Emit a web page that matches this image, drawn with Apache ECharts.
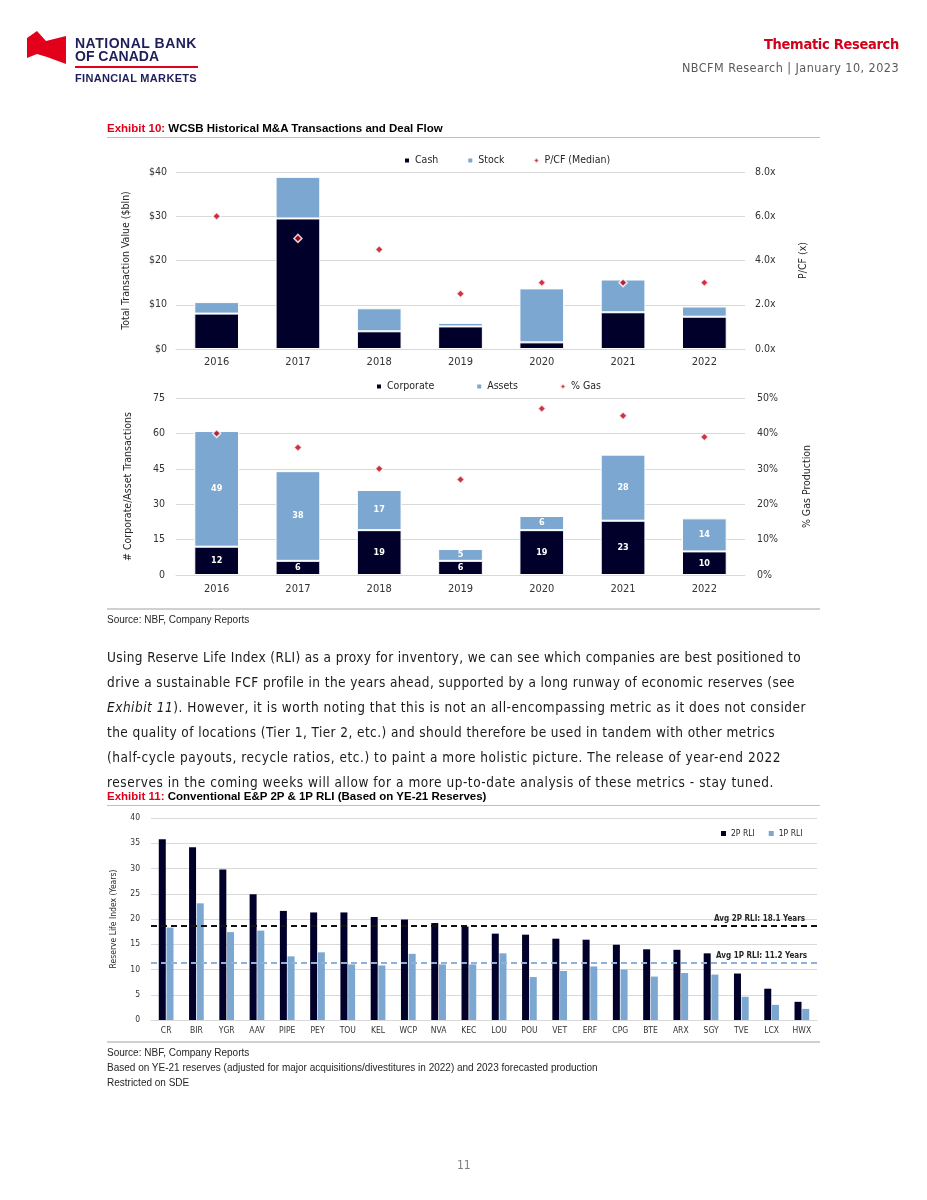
<!DOCTYPE html>
<html><head><meta charset="utf-8">
<script src="https://cdn.jsdelivr.net/npm/echarts/dist/echarts.min.js"></script>
<style>
html,body{margin:0;padding:0;background:#fff;}
#page{position:relative;width:927px;height:1200px;overflow:hidden;background:#fff;}
#chart{position:absolute;left:0;top:0;width:927px;height:1200px;}
.t{position:absolute;white-space:nowrap;line-height:1;}
.hr{position:absolute;left:107px;width:713px;background:#BFBFBF;}
.body{font-family:"DejaVu Sans Condensed","DejaVu Sans",sans-serif;font-size:13.5px;color:#1a1a1a;left:107px;}
.ex{font-family:"Liberation Sans",Arial,sans-serif;font-weight:bold;font-size:11.5px;color:#000;left:107px;}
.ex span{color:#E0001B;}
.src{font-family:"Liberation Sans",Arial,sans-serif;font-size:10px;color:#262626;left:107px;}
.logo{font-family:"Liberation Sans",Arial,sans-serif;font-weight:bold;color:#1E1E5A;left:75px;}
</style></head>
<body><div id="page">
<div id="chart"></div>

<svg class="t" style="left:0;top:0" width="80" height="80"><path d="M27,38 L37,31 L46,41 L66,36 L66,64 L47,57 L37,54 L27,58 Z" fill="#E3001B"/></svg>
<div class="t logo fit" data-w="122" style="top:36px;font-size:14px;">NATIONAL BANK</div>
<div class="t logo" style="top:49px;font-size:14px;">OF CANADA</div>
<div class="t" style="left:75px;top:66px;width:123px;height:1.5px;background:#E3001B;"></div>
<div class="t logo fit" data-w="122" style="top:73px;font-size:11px;">FINANCIAL MARKETS</div>

<div class="t fit" data-w="135" style="right:28px;top:37px;font-family:'DejaVu Sans Condensed','DejaVu Sans',sans-serif;font-weight:bold;font-size:14.5px;color:#D0021B;">Thematic Research</div>
<div class="t fit" data-w="217" style="right:28px;top:62px;font-family:'DejaVu Sans Condensed','DejaVu Sans',sans-serif;font-size:12.5px;color:#595959;">NBCFM Research | January 10, 2023</div>

<div class="t ex" style="top:123px;"><span>Exhibit 10:</span> WCSB Historical M&amp;A Transactions and Deal Flow</div>
<div class="hr" style="top:137px;height:1px;"></div>
<div class="hr" style="top:608px;height:2px;background:#D0D0D0;"></div>
<div class="t src" style="top:615px;">Source: NBF, Company Reports</div>

<div class="t body fit" data-w="694" style="top:651px;">Using Reserve Life Index (RLI) as a proxy for inventory, we can see which companies are best positioned to</div>
<div class="t body fit" data-w="688" style="top:676px;">drive a sustainable FCF profile in the years ahead, supported by a long runway of economic reserves (see</div>
<div class="t body fit" data-w="699" style="top:701px;"><i>Exhibit 11</i>). However, it is worth noting that this is not an all-encompassing metric as it does not consider</div>
<div class="t body fit" data-w="668" style="top:726px;">the quality of locations (Tier 1, Tier 2, etc.) and should therefore be used in tandem with other metrics</div>
<div class="t body fit" data-w="674" style="top:751px;">(half-cycle payouts, recycle ratios, etc.) to paint a more holistic picture. The release of year-end 2022</div>
<div class="t body fit" data-w="667" style="top:776px;">reserves in the coming weeks will allow for a more up-to-date analysis of these metrics - stay tuned.</div>

<div class="t ex" style="top:791px;"><span>Exhibit 11:</span> Conventional E&amp;P 2P &amp; 1P RLI (Based on YE-21 Reserves)</div>
<div class="hr" style="top:805px;height:1px;"></div>
<div class="hr" style="top:1041px;height:2px;background:#D0D0D0;"></div>
<div class="t src" style="top:1048px;">Source: NBF, Company Reports</div>
<div class="t src" style="top:1063px;">Based on YE-21 reserves (adjusted for major acquisitions/divestitures in 2022) and 2023 forecasted production</div>
<div class="t src" style="top:1078px;">Restricted on SDE</div>

<div class="t" style="left:457px;top:1159px;font-family:'DejaVu Sans Condensed','DejaVu Sans',sans-serif;font-size:12px;color:#7F7F7F;">11</div>
</div>
<script>
// ---- data ----
const years = ['2016','2017','2018','2019','2020','2021','2022'];
const cashValues = [8.0, 29.5, 4.0, 5.1, 1.5, 8.3, 7.3];
const stockValues = [2.6, 9.4, 5.2, 0.8, 12.2, 7.4, 2.3];
const pcfMedian = [6.0, 5.0, 4.5, 2.5, 3.0, 3.0, 3.0];
const corporateCounts = [12, 6, 19, 6, 19, 23, 10];
const assetCounts = [49, 38, 17, 5, 6, 28, 14];
const gasShare = [40, 36, 30, 27, 47, 45, 39];
const companies = ['CR','BIR','YGR','AAV','PIPE','PEY','TOU','KEL','WCP','NVA','KEC','LOU','POU','VET','ERF','CPG','BTE','ARX','SGY','TVE','LCX','HWX'];
const rli2P = [35.8,34.2,29.8,24.9,21.6,21.3,21.3,20.4,19.9,19.2,18.5,17.1,16.9,16.1,15.9,14.9,14.0,13.9,13.2,9.2,6.2,3.6];
const rli1P = [18.3,23.1,17.4,17.7,12.6,13.4,11.0,10.8,13.1,11.0,11.0,13.2,8.5,9.7,10.6,10.0,8.6,9.3,9.0,4.6,3.0,2.2];
const avg2PLine = 18.6;
const avg1PLine = 11.3;
const avg2PLabel = 'Avg 2P RLI: 18.1 Years';
const avg1PLabel = 'Avg 1P RLI: 11.2 Years';

// ---- fit text lines ----
document.querySelectorAll('.fit').forEach(el => {
  const target = +el.dataset.w;
  const w = el.getBoundingClientRect().width;
  const n = el.textContent.length;
  el.style.letterSpacing = ((target - w) / n).toFixed(3) + 'px';
});

const FONT = '"DejaVu Sans Condensed","DejaVu Sans",sans-serif';
const GRID_C = '#D9D9D9';
const LABEL_C = '#333333';
const DARK = '#00002A';
const LIGHT = '#7BA7D0';
const RED = '#C00012';

function catAxis(gridIndex, data, fontSize, margin) {
  return {type:'category', gridIndex, data,
    axisTick:{show:false}, axisLine:{lineStyle:{color:GRID_C, width:1}},
    axisLabel:{color:LABEL_C, fontSize, fontFamily:FONT, margin}};
}
function valAxis(gridIndex, position, min, max, interval, fmt, name, nameGap, fontSize, margin, split) {
  return {type:'value', gridIndex, position, min, max, interval,
    axisLine:{show:false}, axisTick:{show:false},
    splitLine:{show:split, lineStyle:{color:GRID_C, width:1}},
    axisLabel:{color:LABEL_C, fontSize, fontFamily:FONT, margin, formatter:fmt},
    name, nameLocation:'middle', nameGap, nameRotate:90,
    nameTextStyle:{color:'#262626', fontSize, fontFamily:FONT}};
}
const legendBase = (left, top, gap, fs, sz) => ({left, top, itemWidth:sz, itemHeight:sz, itemGap:gap,
  textStyle:{color:'#262626', fontSize:fs, fontFamily:FONT}});

const chart = echarts.init(document.getElementById('chart'), null, {renderer:'canvas'});
chart.setOption({
  animation:false,
  grid:[
    {left:176, top:172, width:569, height:177},
    {left:176, top:398, width:569, height:177},
    {left:151, top:818, width:666, height:202}
  ],
  legend:[
    Object.assign(legendBase(398, 150, 28, 10.5, 6), {data:[{name:'Cash',icon:'rect'},{name:'Stock',icon:'rect'},{name:'P/CF (Median)',icon:'diamond'}]}),
    Object.assign(legendBase(370, 376, 41, 10.5, 6), {data:[{name:'Corporate',icon:'rect'},{name:'Assets',icon:'rect'},{name:'% Gas',icon:'diamond'}]}),
    Object.assign(legendBase(716, 824, 14, 8.5, 5), {data:[{name:'2P RLI',icon:'rect'},{name:'1P RLI',icon:'rect'}]})
  ],
  xAxis:[
    catAxis(0, years, 11, 8),
    catAxis(1, years, 11, 9),
    catAxis(2, companies, 8.5, 6)
  ],
  yAxis:[
    valAxis(0,'left',0,40,10,v=>'$'+v,'Total Transaction Value ($bln)',44,10.5,9,true),
    valAxis(0,'right',0,8,2,v=>v.toFixed(1)+'x','P/CF (x)',53,10.5,10,false),
    valAxis(1,'left',0,75,15,v=>String(v),'# Corporate/Asset Transactions',42,10.5,11,true),
    valAxis(1,'right',0,50,10,v=>v+'%','% Gas Production',57,10.5,12,false),
    valAxis(2,'left',0,40,5,v=>String(v),'Reserve Life Index (Years)',33,8.5,11,true)
  ],
  series:[
    {name:'Cash', type:'bar', xAxisIndex:0, yAxisIndex:0, stack:'v', data:cashValues, barWidth:'55%',
      itemStyle:{color:DARK, borderColor:'#fff', borderWidth:1}},
    {name:'Stock', type:'bar', xAxisIndex:0, yAxisIndex:0, stack:'v', data:stockValues,
      itemStyle:{color:LIGHT, borderColor:'#fff', borderWidth:1}},
    {name:'P/CF (Median)', type:'scatter', xAxisIndex:0, yAxisIndex:1, data:pcfMedian, symbol:'diamond', symbolSize:8, z:5,
      itemStyle:{color:RED, borderColor:'#fff', borderWidth:1.5}},
    {name:'Corporate', type:'bar', xAxisIndex:1, yAxisIndex:2, stack:'n', data:corporateCounts, barWidth:'55%',
      itemStyle:{color:DARK, borderColor:'#fff', borderWidth:1},
      label:{show:true, position:'inside', color:'#fff', fontWeight:'bold', fontSize:9, fontFamily:FONT}},
    {name:'Assets', type:'bar', xAxisIndex:1, yAxisIndex:2, stack:'n', data:assetCounts,
      itemStyle:{color:LIGHT, borderColor:'#fff', borderWidth:1},
      label:{show:true, position:'inside', color:'#fff', fontWeight:'bold', fontSize:9, fontFamily:FONT}},
    {name:'% Gas', type:'scatter', xAxisIndex:1, yAxisIndex:3, data:gasShare, symbol:'diamond', symbolSize:8, z:5,
      itemStyle:{color:RED, borderColor:'#fff', borderWidth:1.5}},
    {name:'2P RLI', type:'bar', xAxisIndex:2, yAxisIndex:4, data:rli2P, barWidth:7, barGap:'10%',
      itemStyle:{color:DARK},
      markLine:{silent:true, symbol:'none', data:[{yAxis:avg2PLine}],
        lineStyle:{color:'#111', type:[6,4], width:2},
        label:{position:'insideEndTop', formatter:avg2PLabel, color:'#262626', fontSize:8, fontWeight:'bold', fontFamily:FONT, distance:[12,3]}}},
    {name:'1P RLI', type:'bar', xAxisIndex:2, yAxisIndex:4, data:rli1P, barWidth:7, barGap:'10%',
      itemStyle:{color:LIGHT},
      markLine:{silent:true, symbol:'none', data:[{yAxis:avg1PLine}],
        lineStyle:{color:'#8DB1D8', type:[6,4], width:2},
        label:{position:'insideEndTop', formatter:avg1PLabel, color:'#262626', fontSize:8, fontWeight:'bold', fontFamily:FONT, distance:[10,3]}}}
  ]
});
</script>
</body></html>
